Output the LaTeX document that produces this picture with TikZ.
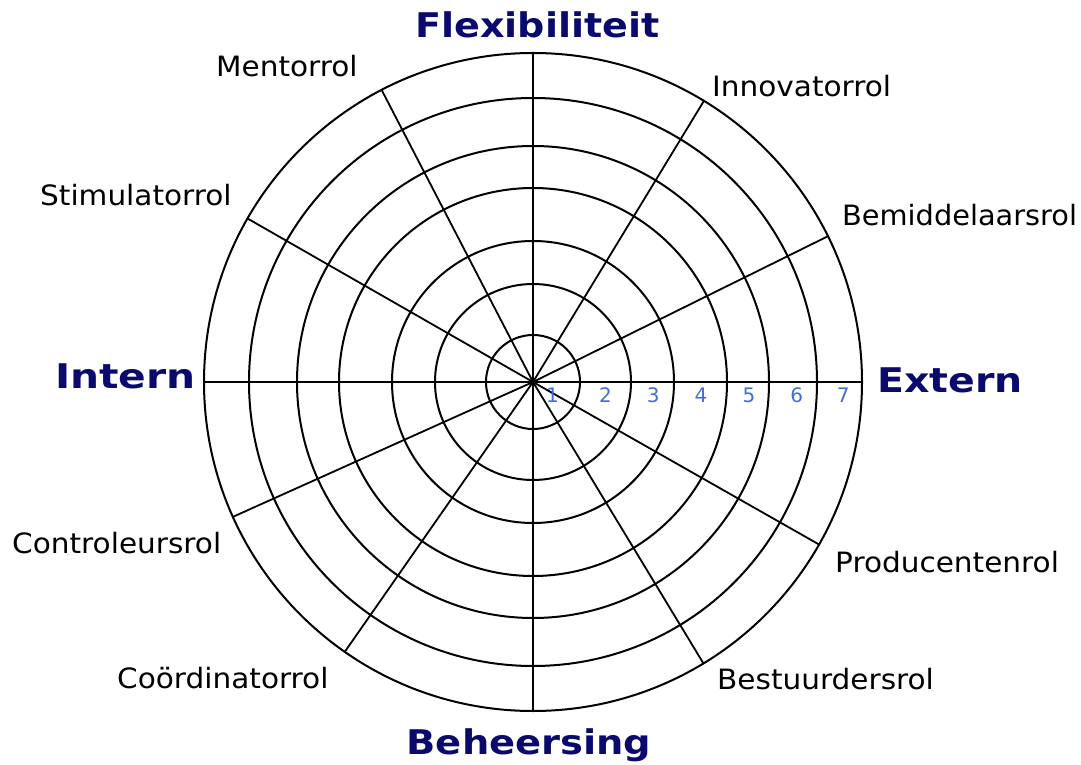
\documentclass[tikz,border=0pt]{standalone}
\usepackage{fontspec}
\setmainfont{DejaVu Sans}
\newfontfamily\rolefont[FakeStretch=1.055]{DejaVu Sans}
\usetikzlibrary{calc}
\definecolor{titlenavy}{RGB}{10,10,110}
\definecolor{numblue}{RGB}{65,110,215}
\begin{document}
\begin{tikzpicture}[x=1pt,y=1pt,
  ring/.style={line width=2pt},
  axis/.style={line width=2.4pt},
  spoke/.style={line width=1.8pt},
  roletext/.style={inner sep=0pt,anchor=base west,font=\rolefont\fontsize{28}{30}\selectfont},
  dimtext/.style={inner sep=0pt,anchor=base,text=titlenavy,transform shape,font=\fontsize{34}{36}\selectfont\bfseries},
  numtext/.style={inner sep=0pt,anchor=center,text=numblue,font=\fontsize{20}{22}\selectfont}]
\useasboundingbox (0,0) rectangle (1081,764);
\coordinate (c) at (533,382);
% rings
\foreach \r in {47,98,141,194,236,284,329}
  \draw[ring] (c) circle (\r);
% axes
\draw[axis] ($(c)+(0,329)$) -- ($(c)+(0,-329)$);
\draw[axis] ($(c)+(-329,0)$) -- ($(c)+(329,0)$);
% spokes
\foreach \a in {58.7,26.3,117.4,150.2,204.2,235.1,301.2,330.4}
  \draw[spoke] (c) -- ++(\a:329);
% scale numbers
\node[numtext] (n1) at (552.5,369) {1};
\node[numtext] (n2) at (605.5,369) {2};
\node[numtext] (n3) at (653.3,369) {3};
\node[numtext] (n4) at (701,369) {4};
\node[numtext] (n5) at (749,369) {5};
\node[numtext] (n6) at (796.7,369) {6};
\node[numtext] (n7) at (843.3,369) {7};
% dimension titles
\node[dimtext,xscale=1.12] (flex) at (537.5,726) {Flexibiliteit};
\node[dimtext,xscale=1.13] (beh) at (529,10) {Beheersing};
\node[dimtext,anchor=base west,xscale=1.2] (int) at (55,376) {Intern};
\node[dimtext,anchor=base west,xscale=1.16] (ext) at (877,372) {Extern};
% role labels
\node[roletext] (mentor) at (216,687) {Mentorrol};
\node[roletext] (innov) at (712,667) {Innovatorrol};
\node[roletext] (stim) at (40,558) {Stimulatorrol};
\node[roletext,transform shape,xscale=0.975] (bemid) at (842,538) {Bemiddelaarsrol};
\node[roletext] (contr) at (12,211) {Controleursrol};
\node[roletext] (prod) at (835,192) {Producentenrol};
\node[roletext] (coord) at (117,76) {Coördinatorrol};
\node[roletext] (best) at (717,75) {Bestuurdersrol};
\end{tikzpicture}
\end{document}
